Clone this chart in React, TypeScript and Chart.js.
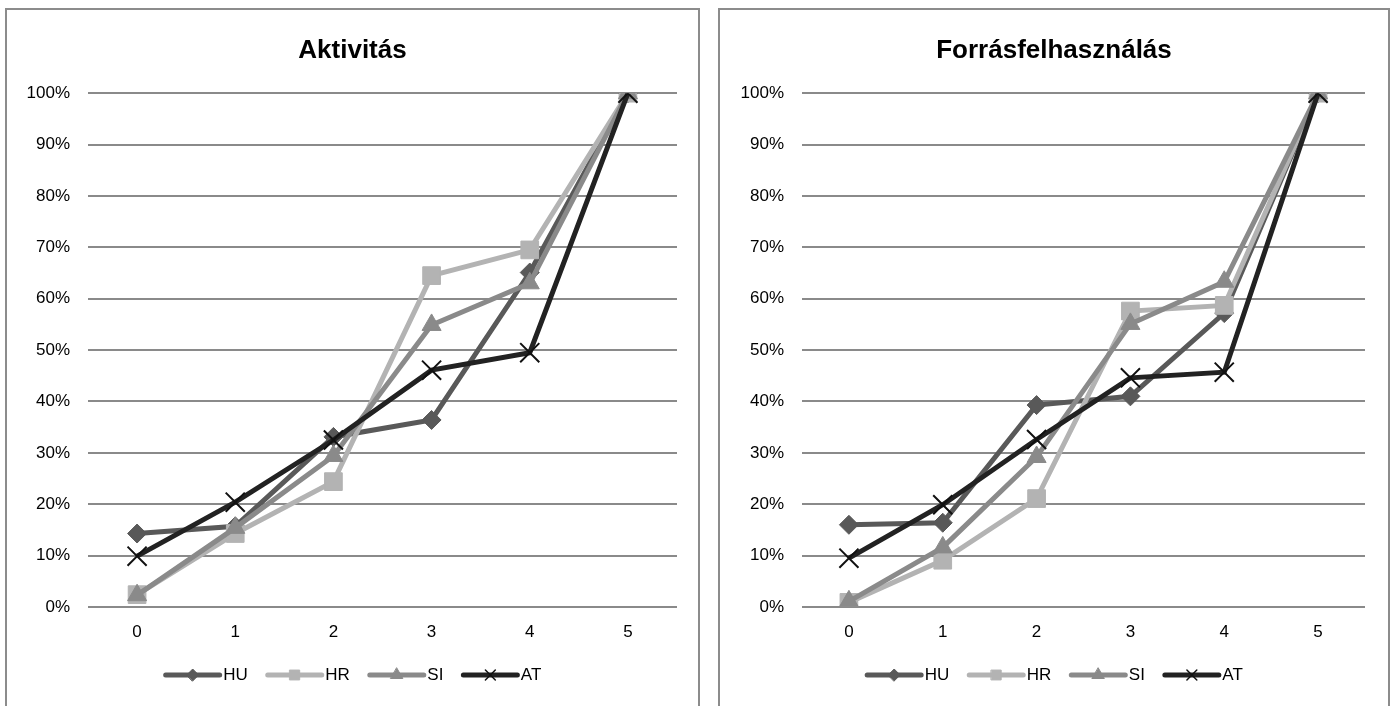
import React, { useEffect, useRef } from "react";
import { Chart, registerables } from "chart.js";
import { drawPoint } from "chart.js/helpers";

Chart.register(...registerables);

const categories = ["0", "1", "2", "3", "4", "5"];
const seriesNames = ["HU", "HR", "SI", "AT"];

// Aktivitás
const aktHU = [0.143, 0.157, 0.331, 0.364, 0.651, 1.0];
const aktHR = [0.024, 0.143, 0.244, 0.645, 0.695, 1.0];
const aktSI = [0.023, 0.154, 0.294, 0.549, 0.63, 1.0];
const aktAT = [0.099, 0.204, 0.325, 0.461, 0.495, 1.0];

// Forrásfelhasználás
const forHU = [0.16, 0.164, 0.393, 0.41, 0.572, 1.0];
const forHR = [0.009, 0.091, 0.211, 0.576, 0.587, 1.0];
const forSI = [0.011, 0.116, 0.292, 0.551, 0.633, 1.0];
const forAT = [0.095, 0.199, 0.326, 0.446, 0.457, 1.0];

const seriesColors = ["#595959", "#b3b3b3", "#8a8a8a", "#222222"];
const seriesMarkers = ["rectRot", "rect", "triangle", "crossRot"];
const markerRadius = [9.5, 12.5, 11, 13.5];
const legendMarkerRadius = [6, 7, 7, 7];

const FONT = "Arial, 'Liberation Sans', sans-serif";

const legendMarkers = {
  id: "legendMarkers",
  afterDraw(chart: any) {
    const legend = chart.legend;
    if (!legend || !legend.legendHitBoxes) return;
    const ctx = chart.ctx;
    legend.legendItems.forEach((item: any, i: number) => {
      const box = legend.legendHitBoxes[i];
      if (!box) return;
      const idx = item.datasetIndex;
      const y = box.top + box.height / 2;
      const x0 = box.left + 2;
      const x1 = box.left + 56;
      ctx.save();
      ctx.strokeStyle = seriesColors[idx];
      ctx.lineWidth = 5;
      ctx.lineCap = "round";
      ctx.beginPath();
      ctx.moveTo(x0, y);
      ctx.lineTo(x1, y);
      ctx.stroke();
      const isCross = seriesMarkers[idx] === "crossRot";
      ctx.fillStyle = seriesColors[idx];
      ctx.strokeStyle = isCross ? "#111111" : seriesColors[idx];
      ctx.lineWidth = isCross ? 1.5 : 1;
      drawPoint(
        ctx,
        {
          pointStyle: seriesMarkers[idx] as any,
          radius: legendMarkerRadius[idx],
          rotation: 0,
          borderWidth: isCross ? 1.5 : 1,
        } as any,
        (x0 + x1) / 2,
        y
      );
      ctx.restore();
    });
  },
};

function makeChart(
  canvas: HTMLCanvasElement,
  title: string,
  values: number[][],
  yWidth: number,
  rightWidth: number
) {
  const datasets = values.map((data, i) => {
    const isCross = seriesMarkers[i] === "crossRot";
    return {
      label: seriesNames[i],
      data,
      yAxisID: "y",
      borderColor: seriesColors[i],
      backgroundColor: seriesColors[i],
      borderWidth: 5,
      pointStyle: seriesMarkers[i],
      pointRadius: markerRadius[i],
      pointBackgroundColor: seriesColors[i],
      pointBorderColor: isCross ? "#111111" : seriesColors[i],
      pointBorderWidth: isCross ? 2 : 1,
      tension: 0,
      order: 4 - i,
    };
  });

  const tickFont = { family: FONT, size: 17 };

  return new Chart(canvas, {
    type: "line",
    data: { labels: categories, datasets: datasets as any },
    options: {
      animation: false,
      responsive: false,
      layout: { padding: { left: 0, right: 0, top: 0, bottom: 12.5 } },
      plugins: {
        title: {
          display: true,
          text: title,
          color: "#000000",
          font: { family: FONT, size: 26, weight: "bold" },
          padding: { top: 25, bottom: 27 },
        },
        legend: {
          position: "bottom",
          labels: {
            boxWidth: 51,
            boxHeight: 17,
            padding: 18,
            color: "#000000",
            font: tickFont,
            generateLabels: (chart: any) => {
              const items = (Chart.defaults.plugins.legend.labels as any).generateLabels(chart);
              return items
                .sort((a: any, b: any) => a.datasetIndex - b.datasetIndex)
                .map((it: any) => ({
                  ...it,
                  fillStyle: "rgba(0,0,0,0)",
                  strokeStyle: "rgba(0,0,0,0)",
                  lineWidth: 0,
                }));
            },
          },
        },
        tooltip: { enabled: false },
      },
      scales: {
        x: {
          offset: true,
          grid: { display: false, drawTicks: false },
          border: { display: false },
          ticks: { padding: 15, color: "#000000", font: tickFont },
          afterFit: (s: any) => {
            s.height = 41.5;
          },
        },
        y: {
          position: "left",
          min: 0,
          max: 1,
          ticks: {
            stepSize: 0.1,
            padding: 18,
            color: "#000000",
            font: tickFont,
            callback: (v: any) => Math.round(Number(v) * 100) + "%",
          },
          grid: { color: "#8a8a8a", lineWidth: 2, drawTicks: false },
          border: { display: false },
          afterFit: (s: any) => {
            s.width = yWidth;
          },
        },
        yRightSpace: {
          type: "linear",
          position: "right",
          min: 0,
          max: 1,
          grid: { display: false, drawTicks: false },
          border: { display: false },
          ticks: { display: false },
          afterFit: (s: any) => {
            s.width = rightWidth;
          },
        },
      },
    } as any,
    plugins: [legendMarkers],
  });
}

export default function App() {
  const leftRef = useRef<HTMLCanvasElement>(null);
  const rightRef = useRef<HTMLCanvasElement>(null);

  useEffect(() => {
    const c1 = makeChart(leftRef.current!, "Aktivitás", [aktHU, aktHR, aktSI, aktAT], 81, 21);
    const c2 = makeChart(
      rightRef.current!,
      "Forrásfelhasználás",
      [forHU, forHR, forSI, forAT],
      82,
      23
    );
    return () => {
      c1.destroy();
      c2.destroy();
    };
  }, []);

  const panel: React.CSSProperties = {
    position: "absolute",
    top: 8,
    height: 720,
    border: "2px solid #8c8c8c",
    background: "#ffffff",
    boxSizing: "border-box",
  };

  return (
    <div
      style={{
        position: "fixed",
        left: 0,
        top: 0,
        width: 1392,
        height: 706,
        overflow: "hidden",
        background: "#ffffff",
      }}
    >
      <div style={{ ...panel, left: 5, width: 695 }}>
        <canvas ref={leftRef} width={691} height={696} style={{ display: "block" }} />
      </div>
      <div style={{ ...panel, left: 718, width: 672 }}>
        <canvas ref={rightRef} width={668} height={696} style={{ display: "block" }} />
      </div>
    </div>
  );
}
